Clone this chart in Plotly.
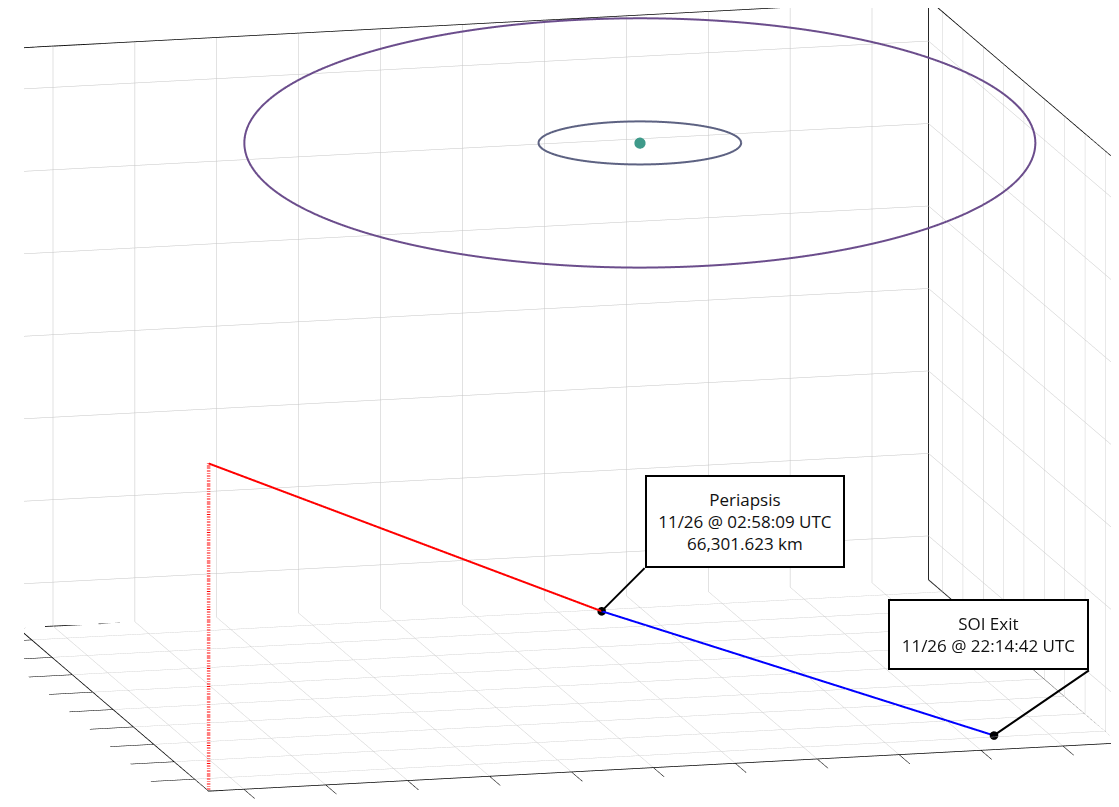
import numpy as np
import plotly.graph_objects as go

# axis limits (data units, equal aspect)
x_lim = [-0.43, 10.69]
y_lim = [-0.686, 8.686]
z_lim = [-0.533, 6.50]

# central body and its two orbits
planet = [6.0, 4.0, 6.0]
orbit_radius = [4.686, 1.2]
orbit_incl_deg = [6.1, 0.0]
orbit_node_deg = [-14.0, -14.0]
orbit_colors = ['#6b4d8c', '#5d6282']

# flyby trajectory: inbound leg (red), outbound leg (blue)
traj_in_x = [-0.43, 6.50]
traj_in_y = [-0.686, 7.89]
traj_in_z = [3.44, -0.525]
traj_out_x = [6.50, 9.34]
traj_out_y = [7.89, 0.045]
traj_out_z = [-0.525, -0.525]

events = ['Periapsis<br>11/26 @ 02:58:09 UTC<br>66,301.623 km',
          'SOI Exit<br>11/26 @ 22:14:42 UTC']

fig = go.Figure()

# box outline (back wall, floor, right wall) like a matlab "box on"
x0, x1 = x_lim
y0, y1 = y_lim
z0, z1 = z_lim
box_x = [x0, x1, x1, x0, x0, x0, x1, x1, None, x1, x1, x1]
box_y = [y1, y1, y1, y1, y1, y0, y0, y1, None, y0, y0, y1]
box_z = [z0, z0, z1, z1, z0, z0, z0, z0, None, z0, z1, z1]
fig.add_trace(go.Scatter3d(x=box_x, y=box_y, z=box_z, mode='lines',
                           line=dict(color='#262626', width=2)))

theta = np.linspace(0, 2 * np.pi, 361)
for r, inc, node, col in zip(orbit_radius, orbit_incl_deg, orbit_node_deg, orbit_colors):
    i, w = np.radians(inc), np.radians(node)
    u = np.array([np.cos(w), np.sin(w), 0.0])
    v = np.array([-np.sin(w) * np.cos(i), np.cos(w) * np.cos(i), np.sin(i)])
    pts = np.outer(np.cos(theta), u) + np.outer(np.sin(theta), v)
    fig.add_trace(go.Scatter3d(
        x=planet[0] + r * pts[:, 0],
        y=planet[1] + r * pts[:, 1],
        z=planet[2] + r * pts[:, 2],
        mode='lines', line=dict(color=col, width=4)))

fig.add_trace(go.Scatter3d(x=[planet[0]], y=[planet[1]], z=[planet[2]],
                           mode='markers', marker=dict(color='#3f9a8a', size=6.5)))

# drop line from the start of the trajectory to the floor
fig.add_trace(go.Scatter3d(x=[traj_in_x[0]] * 2, y=[traj_in_y[0]] * 2,
                           z=[traj_in_z[0], z_lim[0]], mode='lines',
                           line=dict(color='red', width=7, dash='dot')))
fig.add_trace(go.Scatter3d(x=traj_in_x, y=traj_in_y, z=traj_in_z, mode='lines',
                           line=dict(color='red', width=4)))
fig.add_trace(go.Scatter3d(x=traj_out_x, y=traj_out_y, z=traj_out_z, mode='lines',
                           line=dict(color='blue', width=4)))
fig.add_trace(go.Scatter3d(x=[traj_out_x[0], traj_out_x[1]], y=[traj_out_y[0], traj_out_y[1]],
                           z=[traj_out_z[0], traj_out_z[1]], mode='markers',
                           marker=dict(color='black', size=5)))

axis = dict(showbackground=False, showgrid=True, gridcolor='#c4c4c4', gridwidth=1,
            showline=True, linecolor='black', linewidth=1.5, mirror=True,
            ticks='outside', ticklen=45, tickcolor='black', tickwidth=1.5,
            showticklabels=False, title=dict(text=''), zeroline=False,
            showspikes=False, dtick=1, tick0=0)

span = [x_lim[1] - x_lim[0], y_lim[1] - y_lim[0], z_lim[1] - z_lim[0]]
zoom = 2.37
center = np.array([0.018, 0.0, -0.023])
eye_dir = np.array([-0.2357, -0.9482, 0.2125])
eye = center + eye_dir * 1.6

note = dict(showarrow=True, arrowhead=0, arrowwidth=2, arrowcolor='black',
            bordercolor='black', borderwidth=2, borderpad=0, bgcolor='white',
            font=dict(family='Open Sans', size=17, color='#111'))

fig.update_layout(
    width=1119, height=807, showlegend=False, hovermode=False,
    paper_bgcolor='white', margin=dict(l=0, r=0, t=0, b=0),
    scene=dict(
        domain=dict(x=[0.0143, 1], y=[0.0186, 1]),
        xaxis=dict(axis, range=x_lim),
        yaxis=dict(axis, range=y_lim),
        zaxis=dict(axis, range=z_lim),
        aspectmode='manual',
        aspectratio=dict(x=zoom, y=zoom * span[1] / span[0], z=zoom * span[2] / span[0]),
        camera=dict(eye=dict(x=eye[0], y=eye[1], z=eye[2]), up=dict(x=0, y=0, z=1),
                    center=dict(x=center[0], y=center[1], z=center[2]),
                    projection=dict(type='orthographic')),
        annotations=[
            dict(note, x=traj_in_x[1], y=traj_in_y[1], z=traj_in_z[1], text=events[0],
                 ax=43, ay=-43, xanchor='left', yanchor='bottom', width=196, height=89),
            dict(note, x=traj_out_x[1], y=traj_out_y[1], z=traj_out_z[1], text=events[1],
                 ax=95, ay=-65, xanchor='right', yanchor='bottom', width=197, height=67),
        ]),
)

fig.write_html("out.html")
